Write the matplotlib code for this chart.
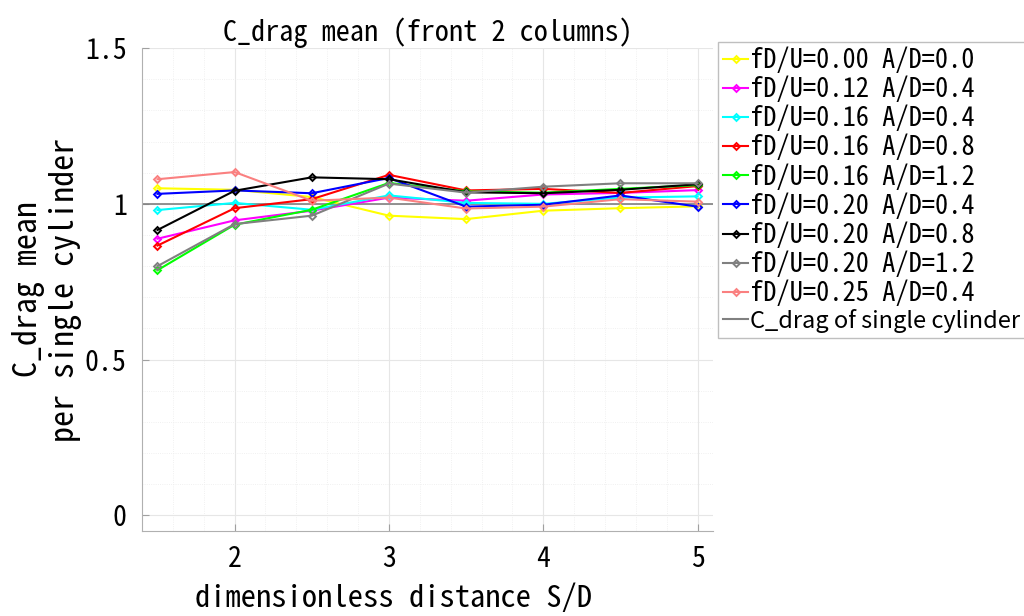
import matplotlib
matplotlib.use("Agg")
import matplotlib.pyplot as plt
from matplotlib.ticker import MultipleLocator

plt.rcParams['font.family'] = ['Noto Sans Mono CJK JP', 'Noto Sans CJK JP', 'DejaVu Sans']

x = [1.5, 2.0, 2.5, 3.0, 3.5, 4.0, 4.5, 5.0]

labels = [
    "fD/U=0.00 A/D=0.0",
    "fD/U=0.12 A/D=0.4",
    "fD/U=0.16 A/D=0.4",
    "fD/U=0.16 A/D=0.8",
    "fD/U=0.16 A/D=1.2",
    "fD/U=0.20 A/D=0.4",
    "fD/U=0.20 A/D=0.8",
    "fD/U=0.20 A/D=1.2",
    "fD/U=0.25 A/D=0.4",
]

y_000_00 = [1.050, 1.045, 1.022, 0.962, 0.951, 0.978, 0.986, 0.992]
y_012_04 = [0.888, 0.947, 0.978, 1.020, 1.010, 1.030, 1.035, 1.044]
y_016_04 = [0.980, 1.003, 0.981, 1.027, 1.003, 1.000, 1.020, 1.024]
y_016_08 = [0.866, 0.986, 1.015, 1.093, 1.043, 1.048, 1.035, 1.057]
y_016_12 = [0.787, 0.933, 0.981, 1.067, 1.040, 1.036, 1.048, 1.060]
y_020_04 = [1.032, 1.043, 1.034, 1.083, 0.991, 0.997, 1.027, 0.991]
y_020_08 = [0.916, 1.042, 1.085, 1.079, 1.037, 1.034, 1.045, 1.063]
y_020_12 = [0.800, 0.935, 0.962, 1.065, 1.036, 1.055, 1.066, 1.066]
y_025_04 = [1.079, 1.102, 1.010, 1.020, 0.985, 0.991, 1.015, 1.007]

series = [y_000_00, y_012_04, y_016_04, y_016_08, y_016_12,
          y_020_04, y_020_08, y_020_12, y_025_04]
colors = ['#ffff00', '#ff00ff', '#00ffff', '#ff0000', '#00ff00',
          '#0000ff', '#000000', '#808080', '#fa8080']

ref_value = 1.0
ref_label = "C_drag of single cylinder"

fig = plt.figure(figsize=(10.24, 6.16), dpi=100)
ax = fig.add_axes([0.1387, 0.138, 0.5576, 0.784])

ax.axhline(ref_value, color='#808080', lw=1.2, label=ref_label, zorder=1)
handles = []
for ys, c, lab in zip(series, colors, labels):
    h, = ax.plot(x, ys, color=c, lw=1.5, marker='D', ms=3.5,
                 mfc='none', mec=c, mew=1.4, label=lab, zorder=2)
    handles.append(h)
ref_h = ax.get_lines()[0]

ax.set_xlim(1.4, 5.1)
ax.set_ylim(-0.05, 1.5)
ax.set_xticks([2, 3, 4, 5])
ax.set_yticks([0, 0.5, 1, 1.5])
ax.set_yticklabels(['0', '0.5', '1', '1.5'])
ax.xaxis.set_minor_locator(MultipleLocator(0.2))
ax.yaxis.set_minor_locator(MultipleLocator(0.1))
ax.grid(True, which='major', color='#e6e6e6', lw=0.8)
ax.grid(True, which='minor', color='#ececec', lw=0.6, ls=':')
ax.set_axisbelow(True)
ax.tick_params(which='major', direction='in', length=5, color='#a0a0a0',
               labelsize=20)
ax.tick_params(axis='x', pad=10)
ax.tick_params(axis='y', pad=11)
ax.tick_params(which='minor', length=0)
for s in ['top', 'right']:
    ax.spines[s].set_visible(False)
for s in ['left', 'bottom']:
    ax.spines[s].set_color('#b0b0b0')

ax.set_title("C_drag mean (front 2 columns)", fontsize=20.3, pad=5)
ax.set_xlabel("dimensionless distance S/D", fontsize=22, labelpad=8)
ax.xaxis.label.set_x(0.44)
ax.set_ylabel("C_drag mean\nper single cylinder", fontsize=23,
              linespacing=1.15, labelpad=2)

leg = fig.legend(handles + [ref_h], labels + [ref_label],
                 loc='upper left', bbox_to_anchor=(0.701, 0.932),
                 borderaxespad=0, fontsize=19, frameon=True, fancybox=False,
                 edgecolor='#b0b0b0', handlelength=0.95, handletextpad=0.08,
                 labelspacing=0.08, borderpad=0.2)
leg.get_frame().set_linewidth(1.0)
for lh in leg.get_lines():
    lh.set_linewidth(1.5)
last = leg.get_texts()[-1]
last.set_fontfamily(['Noto Sans CJK JP', 'DejaVu Sans'])
last.set_fontsize(17)

fig.savefig("out.png", dpi=100)
